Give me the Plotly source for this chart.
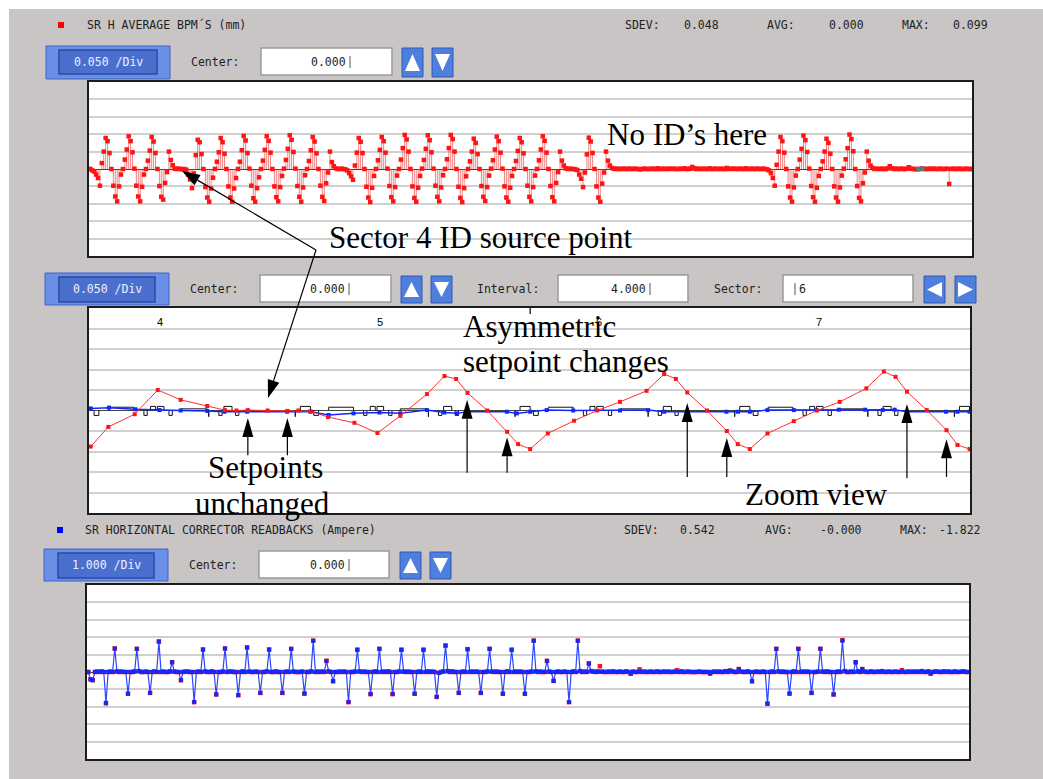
import math
import plotly.graph_objects as go

W, H = 1043, 779

# ---------------- SR H average BPMs (mm), ring order ----------------
# first block is the tail of sector 40, then sectors 1..39
bpm_sectors = [40] + list(range(1, 40))
bpm_counts = [7] + [12] * 22 + [11] * 8 + [12] * 4 + [11] * 5
bpm_first_slot = 5          # slot of the first listed BPM in sector 40
bpm_first_index = -7        # plot index of the first listed BPM
# position of each BPM inside a 12-BPM sector (fraction of a sector)
bpm_slot_pos = [0.094, 0.215, 0.295, 0.348, 0.400, 0.490,
                0.580, 0.630, 0.685, 0.765, 0.885, 0.990]
bpm_h_mm = [
    # 40 (tail)
    0.000, 0.000, -0.004, -0.007, -0.016, -0.026, -0.048,
    # 1
    0.017, 0.050, 0.089, 0.080, 0.046, 0.000, -0.048, -0.079, -0.093, -0.050, -0.016, 0.000,
    # 2
    0.027, 0.056, 0.094, 0.080, 0.048, 0.001, -0.048, -0.079, -0.093, -0.051, -0.016, 0.000,
    # 3
    0.024, 0.053, 0.092, 0.079, 0.046, 0.000, -0.049, -0.080, -0.088, -0.040, -0.009, 0.050,
    # 4
    0.026, 0.011, 0.001, 0.000, 0.001, 0.000, -0.001, 0.000, -0.002, -0.016, -0.030, -0.055,
    # 5
    -0.013, 0.040, 0.084, 0.077, 0.043, 0.000, -0.052, -0.082, -0.094, -0.056, -0.025, 0.000,
    # 6
    0.021, 0.048, 0.089, 0.077, 0.044, 0.000, -0.050, -0.082, -0.094, -0.056, -0.026, 0.000,
    # 7
    0.021, 0.054, 0.095, 0.082, 0.046, 0.001, -0.048, -0.084, -0.094, -0.055, -0.024, 0.000,
    # 8
    0.024, 0.055, 0.094, 0.081, 0.047, 0.000, -0.050, -0.081, -0.093, -0.052, -0.020, 0.001,
    # 9
    0.026, 0.058, 0.097, 0.084, 0.049, 0.001, -0.049, -0.080, -0.094, -0.053, -0.018, 0.000,
    # 10
    0.023, 0.054, 0.092, 0.079, 0.045, 0.000, -0.048, -0.080, -0.092, -0.041, -0.010, 0.050,
    # 11
    0.020, 0.008, 0.002, 0.000, 0.000, 0.001, 0.000, -0.001, -0.004, -0.012, -0.021, -0.031,
    # 12
    0.010, 0.047, 0.089, 0.078, 0.046, 0.000, -0.051, -0.082, -0.095, -0.054, -0.020, 0.000,
    # 13
    0.025, 0.055, 0.092, 0.080, 0.047, 0.001, -0.049, -0.081, -0.093, -0.052, -0.019, 0.000,
    # 14
    0.027, 0.060, 0.098, 0.085, 0.050, 0.000, -0.050, -0.083, -0.094, -0.054, -0.020, 0.001,
    # 15
    0.026, 0.058, 0.097, 0.083, 0.048, 0.001, -0.048, -0.080, -0.093, -0.053, -0.018, 0.000,
    # 16
    0.028, 0.060, 0.098, 0.086, 0.050, 0.000, -0.051, -0.083, -0.095, -0.055, -0.021, 0.000,
    # 17
    0.022, 0.050, 0.087, 0.075, 0.043, 0.000, -0.049, -0.080, -0.092, -0.052, -0.019, 0.001,
    # 18
    0.025, 0.056, 0.093, 0.080, 0.047, 0.001, -0.050, -0.082, -0.094, -0.054, -0.020, 0.000,
    # 19
    0.023, 0.052, 0.089, 0.077, 0.045, 0.000, -0.048, -0.080, -0.093, -0.052, -0.019, 0.000,
    # 20
    0.025, 0.056, 0.094, 0.081, 0.047, 0.000, -0.049, -0.081, -0.093, -0.040, -0.009, 0.050,
    # 21
    0.024, 0.010, 0.002, 0.000, 0.001, 0.000, 0.000, -0.001, -0.003, -0.016, -0.028, -0.052,
    # 22
    -0.010, 0.042, 0.090, 0.079, 0.046, 0.000, -0.050, -0.082, -0.094, -0.042, -0.010, 0.050,
    # 23
    0.024, 0.010, 0.003, 0.001, 0.000, 0.001, 0.000, 0.000, 0.001, 0.000, 0.000,
    # 24
    0.001, 0.000, 0.000, 0.001, 0.000, 0.000, -0.001, 0.000, 0.001, 0.000, 0.000,
    # 25
    0.000, 0.001, 0.000, 0.000, 0.002, 0.000, 0.000, 0.001, 0.000, 0.000, 0.001,
    # 26
    0.000, 0.001, 0.000, 0.000, 0.000, 0.001, 0.000, 0.002, 0.000, 0.000, 0.001,
    # 27
    0.006, 0.002, 0.000, 0.001, 0.000, 0.000, 0.001, 0.000, 0.000, 0.002, 0.000,
    # 28
    0.000, 0.001, 0.000, 0.000, 0.001, 0.000, 0.000, 0.003, 0.000, 0.001, 0.000,
    # 29
    0.001, 0.000, 0.000, 0.001, 0.000, 0.000, 0.002, 0.000, 0.000, 0.001, 0.000,
    # 30
    0.000, 0.001, 0.000, 0.000, 0.001, 0.000, -0.001, -0.004, -0.012, -0.026, -0.048,
    # 31
    0.012, 0.050, 0.092, 0.080, 0.047, 0.000, -0.050, -0.082, -0.094, -0.053, -0.019, 0.000,
    # 32
    0.027, 0.058, 0.096, 0.083, 0.049, 0.001, -0.049, -0.081, -0.094, -0.054, -0.020, 0.000,
    # 33
    0.022, 0.050, 0.087, 0.075, 0.044, 0.000, -0.050, -0.082, -0.094, -0.053, -0.019, 0.001,
    # 34
    0.028, 0.060, 0.099, 0.086, 0.051, 0.000, -0.049, -0.083, -0.093, -0.041, -0.010, 0.050,
    # 35
    0.024, 0.010, 0.003, 0.000, 0.001, 0.000, 0.000, 0.001, 0.000, 0.000, 0.002,
    # 36
    0.008, 0.002, 0.000, 0.001, 0.000, 0.000, 0.001, 0.000, 0.000, 0.001, 0.005,
    # 37
    0.001, 0.000, 0.000, -0.001, 0.000, 0.000, 0.001, 0.000, 0.000, 0.000, 0.001,
    # 38
    0.000, 0.001, 0.000, 0.000, 0.001, 0.000, 0.000, 0.000, 0.001, -0.043, 0.000,
    # 39
    0.001, 0.000, 0.000, 0.001, 0.000, 0.000, 0.000, 0.001, 0.000, 0.000, 0.000,
]
bpm_disabled = [426, 428]

# ---------------- zoom view (sectors 3.68 .. 7.68) ----------------
zoom_range = [3.677, 7.687]
zoom_sectors = [3, 4, 5, 6, 7]
zoom_labels = ["4", "5", "6", "7"]
zoom_label_pos = [4, 5, 6, 7]
zoom_center = 5.685

zoom_blue_s = [3.685, 3.768, 3.889, 3.998, 4.094, 4.215, 4.294, 4.397, 4.579, 4.685,
               4.768, 4.881, 4.999, 5.094, 5.215, 5.294, 5.351, 5.400, 5.579, 5.624,
               5.685, 5.760, 5.881, 6.094, 6.222, 6.295, 6.400, 6.578, 6.631, 6.685,
               6.765, 6.885, 6.988, 7.090, 7.210, 7.290, 7.344, 7.400, 7.578, 7.630, 7.685]
zoom_blue_v = [0.005, 0.007, 0.003, 0.001, 0.000, -0.001, -0.003, -0.003, -0.003, -0.003,
               -0.011, -0.007, -0.005, -0.007, 0.001, -0.005, -0.007, -0.003, -0.003, -0.007,
               -0.003, 0.001, 0.000, 0.000, 0.001, -0.003, -0.003, -0.003, -0.003, -0.003,
               0.001, 0.001, 0.001, 0.002, 0.002, 0.001, 0.002, -0.003, -0.003, -0.003, -0.003]

# setpoint steps: start, end, level
zoom_step_s0 = [3.700, 3.768, 3.927, 3.957, 3.988, 4.041, 4.094, 4.222, 4.268, 4.291, 4.344,
                4.616, 4.639, 4.700, 4.768, 4.927, 4.957, 4.988, 5.041, 5.094, 5.222, 5.268, 5.291, 5.344,
                5.616, 5.639, 5.700, 5.768, 5.927, 5.957, 5.988, 6.041, 6.094, 6.222, 6.268, 6.291, 6.344,
                6.616, 6.639, 6.700, 6.768, 6.927, 6.957, 6.988, 7.041, 7.094, 7.222, 7.268, 7.291, 7.344,
                7.616, 7.639]
zoom_step_s1 = [3.722, 3.881, 3.942, 3.980, 4.018, 4.056, 4.215, 4.222, 4.283, 4.328, 4.359,
                4.616, 4.685, 4.722, 4.881, 4.942, 4.980, 5.018, 5.056, 5.215, 5.222, 5.283, 5.328, 5.359,
                5.616, 5.685, 5.722, 5.881, 5.942, 5.980, 6.018, 6.056, 6.215, 6.222, 6.283, 6.328, 6.359,
                6.616, 6.685, 6.722, 6.881, 6.942, 6.980, 7.018, 7.056, 7.215, 7.222, 7.283, 7.328, 7.359,
                7.616, 7.685]
zoom_step_v = [-0.012, 0.008, -0.012, 0.010, 0.010, -0.012, 0.004, -0.015, -0.012, 0.010, -0.012,
               -0.015, 0.010, -0.012, 0.008, -0.012, 0.010, 0.010, -0.012, 0.004, -0.015, -0.012, 0.010, -0.012,
               -0.015, 0.010, -0.012, 0.008, -0.012, 0.010, 0.010, -0.012, 0.004, -0.015, -0.012, 0.010, -0.012,
               -0.015, 0.010, -0.012, 0.008, -0.012, 0.010, 0.010, -0.012, 0.004, -0.015, -0.012, 0.010, -0.012,
               -0.015, 0.010]

# arrows in the zoom view: sector position, tip and tail value (mm)
zoom_arrow_s = [4.400, 4.580, 5.398, 5.580, 6.400, 6.580, 7.400, 7.580]
zoom_arrow_tip = [-0.018, -0.018, 0.026, -0.065, 0.018, -0.067, 0.016, -0.070]
zoom_arrow_tail = [-0.109, -0.109, -0.152, -0.152, -0.162, -0.162, -0.165, -0.162]

# ---------------- SR horizontal corrector readbacks (A) ----------------
corr_first_index = -6
corr_readback_A = [
    # 40 (tail)
    0.00, 0.00, -0.42, -0.47, 0.00, 0.02,
    # 1
    0.00, 0.03, 0.00, -1.77, 0.00, 0.02, 0.00, 1.35, 0.03, 0.00,
    # 2
    0.02, 0.00, 0.00, -1.25, 0.00, 0.00, 0.03, 1.33, 0.05, 0.00,
    # 3
    0.00, 0.02, 0.00, -1.20, 0.00, 0.03, 0.00, 1.75, 0.00, 0.02,
    # 4
    0.00, 0.00, 0.03, 0.56, 0.02, 0.00, 0.00, -0.47, 0.00, 0.02,
    # 5
    0.02, 0.00, 0.00, -1.73, 0.00, 0.02, 0.00, 1.29, 0.03, 0.00,
    # 6
    0.00, 0.03, 0.00, -1.29, 0.00, 0.00, 0.02, 1.35, 0.00, 0.02,
    # 7
    0.02, 0.00, 0.00, -1.33, 0.00, 0.03, 0.00, 1.41, 0.02, 0.00,
    # 8
    0.00, 0.02, 0.00, -1.20, 0.00, 0.00, 0.03, 1.29, 0.00, 0.00,
    # 9
    0.03, 0.00, 0.00, -1.20, 0.00, 0.02, 0.00, 1.33, 0.02, 0.00,
    # 10
    0.00, 0.00, 0.02, -1.24, 0.00, 0.00, 0.03, 1.80, 0.00, 0.02,
    # 11
    0.00, 0.02, 0.00, 0.64, 0.03, 0.00, -0.53, 0.00, 0.00, 0.02,
    # 12
    0.00, 0.02, 0.00, -1.73, 0.00, 0.00, 0.02, 1.28, 0.03, 0.00,
    # 13
    0.02, 0.00, 0.00, -1.27, 0.00, 0.03, 0.00, 1.33, 0.00, 0.02,
    # 14
    0.00, 0.03, 0.00, -1.27, 0.00, 0.00, 0.02, 1.28, 0.02, 0.00,
    # 15
    0.02, 0.00, 0.00, -1.25, 0.00, 0.02, 0.00, 1.28, 0.00, 0.03,
    # 16
    0.00, 0.02, 0.00, -1.43, -0.05, 0.00, 0.03, 1.52, 0.05, 0.00,
    # 17
    0.03, 0.00, 0.00, -1.20, 0.00, 0.02, 0.00, 1.31, 0.00, 0.02,
    # 18
    0.00, 0.02, 0.00, -1.20, 0.00, 0.00, 0.03, 1.33, 0.02, 0.00,
    # 19
    0.02, 0.00, 0.00, -1.25, 0.00, 0.03, 0.00, 1.28, 0.00, 0.02,
    # 20
    0.00, 0.02, 0.00, -1.25, 0.00, 0.00, 0.02, 1.80, 0.03, 0.00,
    # 21
    0.02, 0.00, 0.00, 0.64, 0.02, 0.00, -0.51, 0.00, 0.02, 0.00,
    # 22
    0.00, 0.02, 0.00, -1.73, 0.00, 0.03, 0.00, 1.80, 0.05, 0.00,
    # 23
    0.02, 0.00, 0.49, 0.05, 0.02, 0.00, 0.03, 0.00, 0.02, 0.00,
    # 24
    0.00, 0.02, 0.00, 0.03, 0.00, 0.00, 0.02, 0.00, 0.00, 0.03,
    # 25
    0.00, -0.10, 0.02, 0.00, 0.00, 0.03, 0.00, 0.02, 0.00, 0.00,
    # 26
    0.02, 0.00, 0.00, 0.03, 0.00, 0.00, 0.02, 0.00, 0.02, 0.00,
    # 27
    0.00, 0.02, 0.00, 0.00, 0.03, 0.00, 0.00, 0.02, 0.00, 0.00,
    # 28
    0.00, 0.00, 0.02, 0.00, 0.00, 0.00, 0.00, -0.09, 0.00, 0.02,
    # 29
    0.00, 0.02, 0.00, 0.00, 0.05, 0.00, 0.08, 0.03, 0.00, 0.00,
    # 30
    0.17, 0.02, 0.00, 0.00, 0.03, 0.00, -0.53, 0.00, 0.02, 0.00,
    # 31
    0.00, 0.02, 0.00, -1.82, 0.00, 0.02, 0.00, 1.33, 0.03, 0.00,
    # 32
    0.02, 0.00, 0.00, -1.24, 0.00, 0.03, 0.00, 1.33, 0.00, 0.02,
    # 33
    0.00, 0.02, 0.00, -1.20, 0.00, 0.00, 0.02, 1.33, 0.02, 0.00,
    # 34
    0.03, 0.00, 0.00, -1.29, 0.00, 0.02, 0.00, 1.80, 0.05, 0.00,
    # 35
    0.00, 0.02, 0.00, 0.56, 0.03, 0.00, 0.17, 0.02, 0.00, 0.00,
    # 36
    0.03, 0.00, 0.00, 0.02, 0.00, 0.05, 0.00, 0.00, 0.02, 0.00,
    # 37
    0.00, 0.02, 0.00, 0.00, 0.03, 0.00, 0.00, 0.02, 0.00, 0.02,
    # 38
    0.00, 0.02, 0.00, 0.05, 0.00, 0.00, 0.03, -0.09, 0.00, 0.02,
    # 39
    0.02, 0.00, 0.00, 0.03, 0.00, 0.02, 0.00, 0.00, 0.03, 0.00,
    # 40 (head)
    0.00, 0.02, 0.03, 0.00, 0.00,
]
# setpoints that differ from the readbacks (index -> A)
corr_setpoint_changes = {3: -1.80, 227: 0.33, 245: 0.15, 262: 0.10, 337: 1.83, 364: 0.10}

# ---------------- derived plotting arrays ----------------
bpm_index = list(range(bpm_first_index, bpm_first_index + len(bpm_h_mm)))

# sector position of every BPM in 12-BPM sectors (for the zoom view)
zoom_s, zoom_v = [], []
k = 0
for sec, cnt in zip(bpm_sectors, bpm_counts):
    slot0 = bpm_first_slot if sec == 40 else 0
    if sec in zoom_sectors:
        for j in range(cnt):
            zoom_s.append(sec + bpm_slot_pos[slot0 + j])
            zoom_v.append(bpm_h_mm[k + j])
    k += cnt

stem_x, stem_y = [], []
for i, v in zip(bpm_index, bpm_h_mm):
    stem_x += [i, i, None]
    stem_y += [0, v, None]

dis_x = bpm_disabled
dis_y = [bpm_h_mm[i - bpm_first_index] for i in bpm_disabled]

step_x, step_y = [], []
for a, b, v in zip(zoom_step_s0, zoom_step_s1, zoom_step_v):
    step_x += [a, a, b, b, None]
    step_y += [0, v, v, 0, None]

corr_index = list(range(corr_first_index, corr_first_index + len(corr_readback_A)))
corr_setpoint_A = list(corr_readback_A)
for i, v in corr_setpoint_changes.items():
    corr_setpoint_A[i - corr_first_index] = v

# ---------------- figure ----------------
fig = go.Figure()

RED = "#ff1414"
BLUE = "#1028ff"

fig.add_trace(go.Scatter(x=stem_x, y=stem_y, mode="lines", xaxis="x", yaxis="y",
                         line=dict(color="rgba(230,50,50,0.6)", width=1), hoverinfo="skip"))
fig.add_trace(go.Scatter(x=bpm_index, y=bpm_h_mm, mode="markers", xaxis="x", yaxis="y",
                         marker=dict(symbol="square", size=4.5, color=RED)))
fig.add_trace(go.Scatter(x=dis_x, y=dis_y, mode="markers", xaxis="x", yaxis="y",
                         marker=dict(symbol="square", size=4.5, color="#5b7a7a")))

fig.add_trace(go.Scatter(x=step_x, y=step_y, mode="lines", xaxis="x2", yaxis="y2",
                         line=dict(color="#111111", width=1)))
fig.add_trace(go.Scatter(x=zoom_blue_s, y=zoom_blue_v, mode="lines+markers", xaxis="x2", yaxis="y2",
                         line=dict(color=BLUE, width=1.5),
                         marker=dict(symbol="square", size=4, color=BLUE)))
fig.add_trace(go.Scatter(x=zoom_s, y=zoom_v, mode="lines+markers", xaxis="x2", yaxis="y2",
                         line=dict(color="#ff3030", width=1),
                         marker=dict(symbol="square", size=4, color=RED)))

fig.add_trace(go.Scatter(x=corr_index, y=corr_setpoint_A, mode="markers", xaxis="x3", yaxis="y3",
                         marker=dict(symbol="square", size=4.5, color=RED)))
fig.add_trace(go.Scatter(x=corr_index, y=corr_readback_A, mode="lines+markers", xaxis="x3", yaxis="y3",
                         line=dict(color="#2a46ff", width=1.2),
                         marker=dict(symbol="square", size=4, color=BLUE)))


def px(x):
    return x / W


def py(y):
    return 1 - y / H


# plot boxes in page pixels
TOP = (89, 972, 82, 256)
MID = (89, 970, 308, 513)
BOT = (87, 969, 585, 759)

frame = dict(showline=True, mirror=True, linecolor="#1c1c1c", linewidth=2,
             showticklabels=False, ticks="", fixedrange=True)
xa = dict(showgrid=False, zeroline=False, **frame)
ya = dict(showgrid=True, gridcolor="#d0d0d0", gridwidth=1.5, zeroline=True,
          zerolinecolor="#444444", zerolinewidth=1, **frame)

fig.update_layout(
    width=W, height=H, margin=dict(l=0, r=0, t=0, b=0),
    paper_bgcolor="#c9c5c5", plot_bgcolor="#ffffff", showlegend=False,
    xaxis=dict(domain=[px(TOP[0]), px(TOP[1])], range=[-6.7, 453.9], **xa),
    yaxis=dict(domain=[py(TOP[3]), py(TOP[2])], range=[-0.25, 0.25], dtick=0.05, tick0=0, **ya),
    xaxis2=dict(domain=[px(MID[0]), px(MID[1])], range=zoom_range, anchor="y2", **xa),
    yaxis2=dict(domain=[py(MID[3]), py(MID[2])], range=[-0.25, 0.25], dtick=0.05, tick0=0,
                anchor="x2", **ya),
    xaxis3=dict(domain=[px(BOT[0]), px(BOT[1])], range=[-5.6, 394.4], anchor="y3", **xa),
    yaxis3=dict(domain=[py(BOT[3]), py(BOT[2])], range=[-5, 5], dtick=1, tick0=0,
                anchor="x3", **ya),
)

shapes = []
annotations = []


def rect(x0, y0, x1, y1, fill, line=None, lw=0, layer="below"):
    shapes.append(dict(type="rect", xref="paper", yref="paper",
                       x0=px(x0), x1=px(x1), y0=py(y1), y1=py(y0),
                       fillcolor=fill, line=dict(color=line or fill, width=lw), layer=layer))


def poly(points, fill, layer="above"):
    path = "M " + " L ".join(f"{px(x):.5f},{py(y):.5f}" for x, y in points) + " Z"
    shapes.append(dict(type="path", xref="paper", yref="paper", path=path,
                       fillcolor=fill, line=dict(width=0), layer=layer))


def seg(x0, y0, x1, y1, color="#000000", width=1.2, layer="above"):
    shapes.append(dict(type="line", xref="paper", yref="paper",
                       x0=px(x0), y0=py(y0), x1=px(x1), y1=py(y1),
                       line=dict(color=color, width=width), layer=layer))


def arrow(x0, y0, x1, y1, head_len=18, head_w=11):
    dx, dy = x1 - x0, y1 - y0
    L = math.hypot(dx, dy)
    ux, uy = dx / L, dy / L
    bx, by = x1 - ux * head_len, y1 - uy * head_len
    nx, ny = -uy, ux
    seg(x0, y0, bx, by)
    poly([(x1, y1), (bx + nx * head_w / 2, by + ny * head_w / 2),
          (bx - nx * head_w / 2, by - ny * head_w / 2)], "#000000")


def text(x, y, s, size=11.5, color="#1e1e1e", xanchor="left", family="DejaVu Sans Mono"):
    annotations.append(dict(x=px(x), y=py(y), xref="paper", yref="paper", text=s,
                            showarrow=False, xanchor=xanchor, yanchor="middle",
                            font=dict(family=family, size=size, color=color)))


def big(x, y, s, xanchor="left"):
    text(x, y, s, size=31, color="#000000", xanchor=xanchor, family="Liberation Serif")


def button(box, inner, label, cy):
    x0, y0, x1, y1 = box
    rect(x0, y0, x1, y1, "#6a8fe6", "#3f65c4", 1)
    ix0, iy0, ix1, iy1 = inner
    rect(ix0, iy0, ix1, iy1, "#4a6fcf", "#2d4aa0", 1.5)
    text((ix0 + ix1) / 2, cy, label, color="#eef0ff", xanchor="center")


def field(box, s, cy, right=None, left=None):
    x0, y0, x1, y1 = box
    rect(x0, y0, x1, y1, "#ffffff", "#9a9a9a", 1.5)
    if right is not None:
        text(right, cy, s, xanchor="right")
        seg(right + 2, cy - 6, right + 2, cy + 6, "#555555", 1, "below")
    else:
        text(left, cy, s)
        seg(left - 2, cy - 6, left - 2, cy + 6, "#555555", 1, "below")


def arrow_button(box, direction):
    x0, y0, x1, y1 = box
    rect(x0, y0, x1, y1, "#4f7fdc", "#2e58b8", 1)
    cx, cy = (x0 + x1) / 2, (y0 + y1) / 2
    if direction == "up":
        pts = [(cx, y0 + 6), (x0 + 3, y1 - 6), (x1 - 3, y1 - 6)]
    elif direction == "down":
        pts = [(x0 + 3, y0 + 6), (x1 - 3, y0 + 6), (cx, y1 - 6)]
    elif direction == "left":
        pts = [(x0 + 3, cy), (x1 - 3, y0 + 6), (x1 - 3, y1 - 6)]
    else:
        pts = [(x1 - 3, cy), (x0 + 3, y0 + 6), (x0 + 3, y1 - 6)]
    poly(pts, "#ffffff", "below")


# page edges
rect(0, 0, 9, H, "#ffffff")
rect(0, 0, W, 9, "#ffffff")

# --- BPM panel header ---
rect(58, 22, 64, 28, "#ff0000")
text(85, 25, "SR H AVERAGE BPM´S (mm)")
text(623, 25, "SDEV:")
text(682, 25, "0.048")
text(765, 25, "AVG:")
text(827, 25, "0.000")
text(900, 25, "MAX:")
text(951, 25, "0.099")
button((46, 46, 170, 79), (59, 50, 157, 74), "0.050 /Div", 62)
text(189, 62, "Center:")
field((261, 48, 392, 75), "0.000", 62, right=348)
arrow_button((402, 48, 423, 77), "up")
arrow_button((432, 48, 453, 77), "down")

# --- zoom panel header ---
button((45, 273, 169, 305), (59, 277, 155, 302), "0.050 /Div", 289)
text(188, 289, "Center:")
field((260, 275, 391, 302), "0.000", 289, right=347)
arrow_button((401, 276, 422, 303), "up")
arrow_button((431, 276, 452, 303), "down")
text(475, 289, "Interval:")
field((558, 275, 688, 302), "4.000", 289, right=648)
text(712, 289, "Sector:")
field((783, 275, 913, 302), "6", 289, left=797)
arrow_button((924, 276, 945, 303), "left")
arrow_button((955, 276, 976, 303), "right")

# --- corrector panel header ---
rect(57, 527, 63, 533, "#0000ff")
text(83, 530, "SR HORIZONTAL CORRECTOR READBACKS (Ampere)")
text(622, 530, "SDEV:")
text(678, 530, "0.542")
text(763, 530, "AVG:")
text(818, 530, "-0.000")
text(898, 530, "MAX:")
text(937, 530, "-1.822")
button((44, 549, 168, 581), (58, 553, 154, 578), "1.000 /Div", 565)
text(187, 565, "Center:")
field((259, 551, 389, 578), "0.000", 565, right=347)
arrow_button((400, 552, 421, 579), "up")
arrow_button((430, 552, 451, 579), "down")


# zoom view: pixel mapping of the middle box
def mid_x(s):
    return MID[0] + (s - zoom_range[0]) / (zoom_range[1] - zoom_range[0]) * (MID[1] - MID[0])


def mid_y(v):
    return MID[3] - (v + 0.25) / 0.5 * (MID[3] - MID[2])


for lab, pos in zip(zoom_labels, zoom_label_pos):
    text(mid_x(pos), 322, lab, size=11, color="#000000", xanchor="center", family="Liberation Sans")
seg(mid_x(zoom_center), MID[2], mid_x(zoom_center), MID[2] + 6, "#000000", 1.2)

for s, tip, tail in zip(zoom_arrow_s, zoom_arrow_tip, zoom_arrow_tail):
    arrow(mid_x(s), mid_y(tail), mid_x(s), mid_y(tip), head_len=19, head_w=11)

# source point callouts
arrow(316, 250, 182, 171, head_len=18, head_w=12)
arrow(316, 250, 268, 398, head_len=18, head_w=12)

big(327, 238, "Sector 4 ID source point")
big(605, 135, "No ID’s here")
big(461, 326, "Asymmetric")
big(461, 362, "setpoint changes")
big(265, 467, "Setpoints", xanchor="center")
big(262, 503, "unchanged", xanchor="center")
big(743, 494, "Zoom view")

fig.update_layout(shapes=shapes, annotations=annotations)
fig.write_html("out.html")
